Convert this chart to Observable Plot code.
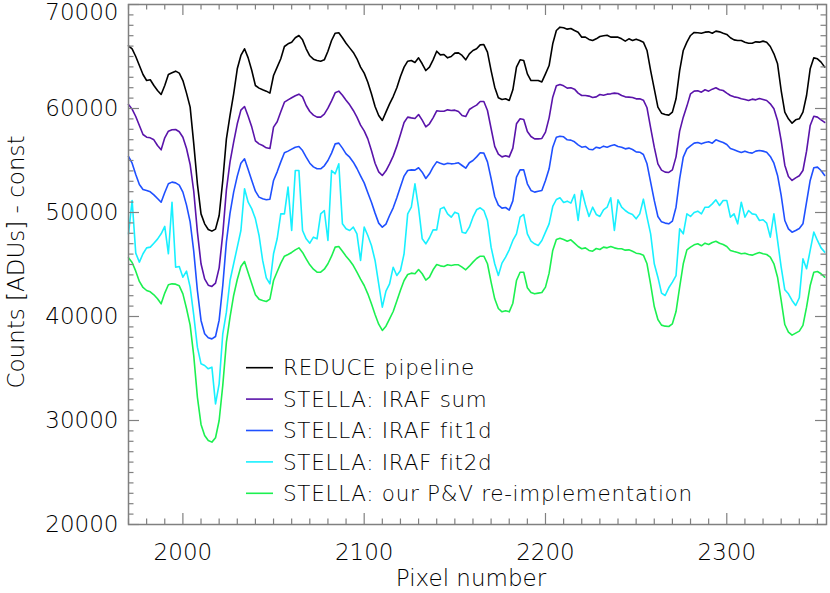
<!DOCTYPE html>
<html>
<head>
<meta charset="utf-8">
<script src="https://cdn.jsdelivr.net/npm/d3@7"></script>
<script src="https://cdn.jsdelivr.net/npm/@observablehq/plot@0.6"></script>
<style>
  html, body { margin: 0; padding: 0; background: #fff; }
  #chart { width: 830px; height: 593px; }
</style>
</head>
<body>
<div id="chart"></div>
<script>
// ---------- data ----------
// pixel numbers sampled every 2 pixels
const pixels = d3.range(1970, 2356, 2);

const reducePipeline = [
  66030,65740,65000,64130,63270,62690,62760,62210,61730,61350,62210,63270,63430,63590,63400,62690,61480,60130,56600,52760,
  49870,48910,48370,48210,48400,49710,53080,57080,59330,61410,63820,65100,65740,64870,63650,62210,61960,61800,61670,
  61480,63170,63980,64780,65960,66220,66380,66800,67020,66600,65740,65070,64740,64620,64550,64680,65510,66540,67240,67280,
  66800,66280,65830,65390,64780,63980,63400,62530,61410,60190,59330,58850,59650,60450,61150,61990,63080,63980,
  64550,64620,64420,64870,64300,63650,63980,64680,65510,65160,65190,64870,65000,65320,65350,65100,64680,65260,65580,65740,
  66120,66150,65420,63650,62050,61030,60870,60930,60770,61800,63980,64680,64620,63330,62690,62690,62690,62560,63330,
  64130,66220,67500,67820,67760,67630,67690,67500,67340,66860,66860,66640,66540,66700,66920,66990,67050,66860,66860,66860,
  66700,66480,66700,66540,66670,66540,66380,65580,63650,61890,60130,59550,59420,59360,59650,60930,63650,65580,66380,
  67020,67310,67280,67240,67340,67370,67240,67440,67370,67240,67120,66800,66600,66540,66540,66380,66280,66280,66410,66380,
  66480,66380,65960,65260,64300,61730,59650,59010,58590,58910,59010,59650,61250,63820,64870,64780,64460,63980
];

const irafSum = [
  60390,59940,59230,58370,57500,57240,57180,56990,56440,56030,57180,57820,57950,57980,57760,57240,56150,54620,52020,48140,
  45070,43620,43010,42890,43210,44680,47950,52180,54870,56760,58530,59840,60190,59260,58210,56890,56600,56440,56220,
  56150,58210,58720,59680,60610,60830,61030,61220,61380,61120,60290,59710,59360,59170,59170,59460,60030,60740,61510,61670,
  61280,60800,60350,59810,59170,58400,57850,57080,55960,54740,53910,53560,54010,54680,55420,56380,57500,58660,
  59170,59100,59040,59420,58880,58240,58530,59100,59780,59740,59740,59870,59810,59840,59710,59330,59230,59900,60130,60320,
  60670,60670,59810,58080,56350,55610,55350,55450,55350,56190,58530,59010,58940,57790,57310,57080,57080,57120,57730,
  59100,61090,62180,62310,62180,61960,61990,61860,61480,61250,61250,61190,61060,61120,61350,61280,61380,61410,61480,61440,
  61250,61120,61090,61060,60930,60930,60800,60070,58140,56280,54680,54070,53880,53850,54100,55350,57820,59170,60230,
  61410,61670,61700,61570,61800,61670,61860,61990,61800,61730,61480,61250,61120,61060,60930,60870,60770,60900,60830,60960,
  60870,60770,60450,59970,58850,56920,54550,53460,53080,53330,53530,54040,55900,58370,59260,59170,58910,58660
];

const irafFit1d = [
  55390,54740,53650,52690,52210,52120,51990,51700,51350,50990,51920,52760,52920,52850,52630,51960,50710,49100,46250,42500,
  39620,38340,37950,37850,38080,39650,42980,47180,49940,51960,53500,54740,55160,54140,53080,52050,51480,51320,51220,
  51280,53080,53910,54870,55740,55900,56090,56280,56350,55960,55320,54740,54390,54200,54200,54490,55000,55710,56600,56670,
  56190,55640,55320,54840,54230,53530,52850,51890,50990,49940,48980,48590,48880,49710,50450,51410,52470,53500,
  54040,54100,54070,54300,53880,53270,53720,54360,54870,54740,54620,54740,54680,54710,54780,54520,54260,54780,55000,55350,
  55740,55710,54870,53270,51540,50710,50420,50480,50230,51120,53400,54100,54100,52760,52120,51960,52050,52120,53080,
  54200,56280,57240,57340,57280,56990,56960,56800,56510,56280,56350,56090,56030,56280,56190,56380,56280,56410,56510,56350,
  56280,56120,56190,56060,55830,55800,55580,54680,52920,51160,49620,49100,48980,48910,49170,50510,53240,55320,56120,
  56410,56670,56730,56600,56730,56800,56670,56990,56860,56730,56540,56150,56030,55900,55770,55900,55770,55710,55900,55960,
  55900,55800,55390,54740,53560,51640,49230,48430,48110,48270,48460,48910,50990,53080,54300,54360,54040,53560
];

const irafFit2d = [
  47950,51160,46090,45230,46030,46600,46670,47050,47440,47950,48660,46030,50990,44740,44810,43780,44360,42820,40100,37050,
  35450,35290,34970,35130,31600,33530,38340,40420,43460,45070,46670,48270,52280,50990,50350,49390,47790,45390,43720,
  43140,46030,47470,49870,49870,52440,48270,54040,54040,48270,47470,47050,47630,47470,49870,50190,47310,54040,53720,54680,
  48910,48430,48270,48590,47950,45390,48590,47790,46830,45390,43140,40900,42440,43140,44740,43940,44420,46030,
  49870,50510,52760,50450,47470,46990,47570,48330,48330,50350,50510,49870,49550,50030,49870,48110,48010,48590,49550,50260,
  50450,50190,49230,46670,45070,43940,45130,45710,46410,47310,47950,49550,49810,47950,47240,46990,46830,47310,48110,
  48910,50580,51250,51410,50960,51090,50900,51730,49230,52120,50770,49620,50510,49810,49620,50260,50510,51410,48270,51220,
  50510,50190,49940,49810,49390,49870,51280,49550,47950,45070,43780,42250,42020,42760,43300,43940,48430,47950,49870,
  49620,50000,50130,49870,50510,50510,50830,51220,50670,51160,51160,49550,49870,48910,50990,49550,50190,49870,49810,49230,
  49300,48980,47630,49870,47310,44740,42570,42180,41540,41060,41800,45550,44590,46350,48110,47310,46600,46190
];

const pvReimplementation = [
  45640,45190,44360,43370,42790,42500,42370,42090,41700,41220,42250,43050,43140,43110,42950,42180,40770,39170,36220,32250,
  29620,28560,28080,27920,28340,30000,33370,37530,39940,42020,43560,44810,45290,44200,43140,42090,41670,41540,41440,
  41670,43460,44300,45130,45800,45960,46160,46410,46600,46160,45550,44970,44550,44260,44260,44550,45070,45800,46670,46730,
  46280,45800,45390,44900,44260,43590,42980,42180,41220,40190,39260,38660,39070,39780,40480,41480,42530,43460,
  44040,44170,44110,44520,44110,43500,43780,44490,45000,44870,44810,44970,44900,44970,44970,44740,44490,44840,45230,45580,
  45800,45800,45070,43300,41700,40770,40450,40550,40450,41280,43460,44260,44260,42760,42310,42180,42250,42310,42820,
  44170,46350,47400,47530,47400,47240,47370,47050,46730,46510,46600,46350,46280,46540,46440,46670,46600,46730,46600,46510,
  46510,46380,46410,46280,46090,46030,45900,45070,43080,40960,39710,39170,39070,39040,39300,40480,42820,45070,46410,
  46670,46890,46990,46800,47050,46920,47120,47240,47050,46920,46730,46350,46250,46160,46030,46090,45960,45900,46030,46160,
  46030,45960,45710,45070,43780,41540,39230,38500,38210,38400,38590,39140,40900,42980,44260,44330,44110,43780
];

const seriesNames = [
  "REDUCE pipeline",
  "STELLA: IRAF sum",
  "STELLA: IRAF fit1d",
  "STELLA: IRAF fit2d",
  "STELLA: our P&V re-implementation"
];
const seriesColors = ["#000000", "#5a14aa", "#1f50ff", "#18f0ff", "#1cf050"];
const seriesValues = [reducePipeline, irafSum, irafFit1d, irafFit2d, pvReimplementation];

const xTicks = [2000, 2100, 2200, 2300];
const yTicks = [20000, 30000, 40000, 50000, 60000, 70000];
const xLabel = "Pixel number";
const yLabel = "Counts [ADUs] - const";

// ---------- layout ----------
const W = 830, H = 593;
const mTop = 4, mRight = 4, mBottom = 69, mLeft = 128;
const innerW = W - mLeft - mRight;
const innerH = H - mTop - mBottom;
const axisColor = "#808080";
const textColor = "#000000";
const font = "DejaVu Sans";
const fontWeight = 200;

const xMinor = d3.range(1970, 2356, 10).filter(v => v % 100 !== 0);
const yMinor = d3.range(20000, 70001, 1000).filter(v => v % 10000 !== 0);

const majorLen = 11, minorLen = 5.5;

const lineMarks = seriesValues.map((vals, k) =>
  Plot.line(vals, {x: (d, i) => pixels[i], y: d => d, stroke: seriesColors[k], strokeWidth: 1.6, strokeLinejoin: "round"})
);

const tickMarks = [
  Plot.tickX(xTicks, {x: d => d, insetTop: innerH - majorLen, stroke: axisColor, strokeWidth: 1.2}),
  Plot.tickX(xTicks, {x: d => d, insetBottom: innerH - majorLen, stroke: axisColor, strokeWidth: 1.2}),
  Plot.tickX(xMinor, {x: d => d, insetTop: innerH - minorLen, stroke: axisColor, strokeWidth: 1.2}),
  Plot.tickX(xMinor, {x: d => d, insetBottom: innerH - minorLen, stroke: axisColor, strokeWidth: 1.2}),
  Plot.tickY(yTicks, {y: d => d, insetRight: innerW - majorLen, stroke: axisColor, strokeWidth: 1.2}),
  Plot.tickY(yTicks, {y: d => d, insetLeft: innerW - majorLen, stroke: axisColor, strokeWidth: 1.2}),
  Plot.tickY(yMinor, {y: d => d, insetRight: innerW - minorLen, stroke: axisColor, strokeWidth: 1.2}),
  Plot.tickY(yMinor, {y: d => d, insetLeft: innerW - minorLen, stroke: axisColor, strokeWidth: 1.2})
];

const labelMarks = [
  Plot.text(xTicks, {x: d => d, text: d => `${d}`, frameAnchor: "bottom", lineAnchor: "top", dy: 19.5, fontSize: 23, fill: textColor}),
  Plot.text(yTicks.filter(v => v < 70000), {y: d => d, text: d => `${d}`, frameAnchor: "left", textAnchor: "end", dx: -10, fontSize: 23, fill: textColor}),
  Plot.text(yTicks.filter(v => v >= 70000), {y: d => d, text: d => `${d}`, frameAnchor: "left", textAnchor: "end", dx: -10, dy: 8, fontSize: 23, fill: textColor})
];

const chart = Plot.plot({
  width: W,
  height: H,
  marginTop: mTop,
  marginRight: mRight,
  marginBottom: mBottom,
  marginLeft: mLeft,
  style: {fontFamily: font, fontWeight: fontWeight, background: "#fff", color: textColor, overflow: "visible"},
  x: {domain: [1970, 2355], axis: null},
  y: {domain: [20000, 70000], axis: null},
  marks: [
    ...lineMarks,
    ...tickMarks,
    Plot.frame({stroke: axisColor, strokeWidth: 1.5}),
    ...labelMarks
  ]
});

document.getElementById("chart").appendChild(chart);

// ---------- axis titles and legend ----------
const svg = d3.select(chart);

svg.append("text")
  .attr("x", 471).attr("y", 586)
  .attr("text-anchor", "middle")
  .attr("font-family", font).attr("font-size", 23).attr("font-weight", fontWeight)
  .attr("fill", textColor)
  .text(xLabel);

svg.append("text")
  .attr("transform", "translate(24,262) rotate(-90)")
  .attr("text-anchor", "middle")
  .attr("font-family", font).attr("font-size", 23).attr("font-weight", fontWeight)
  .attr("fill", textColor)
  .text(yLabel);

const legend = svg.append("g")
  .attr("font-family", font).attr("font-size", 21.5).attr("font-weight", fontWeight)
  .attr("letter-spacing", "0.7px")
  .attr("text-anchor", "start");
seriesNames.forEach((name, i) => {
  const ly = 367.7 + 31.4 * i;
  legend.append("line")
    .attr("x1", 246).attr("x2", 273).attr("y1", ly).attr("y2", ly)
    .attr("stroke", seriesColors[i]).attr("stroke-width", 1.6);
  legend.append("text")
    .attr("x", 283).attr("y", ly).attr("dy", "0.36em")
    .attr("text-anchor", "start")
    .attr("fill", textColor)
    .text(name);
});
</script>
</body>
</html>
